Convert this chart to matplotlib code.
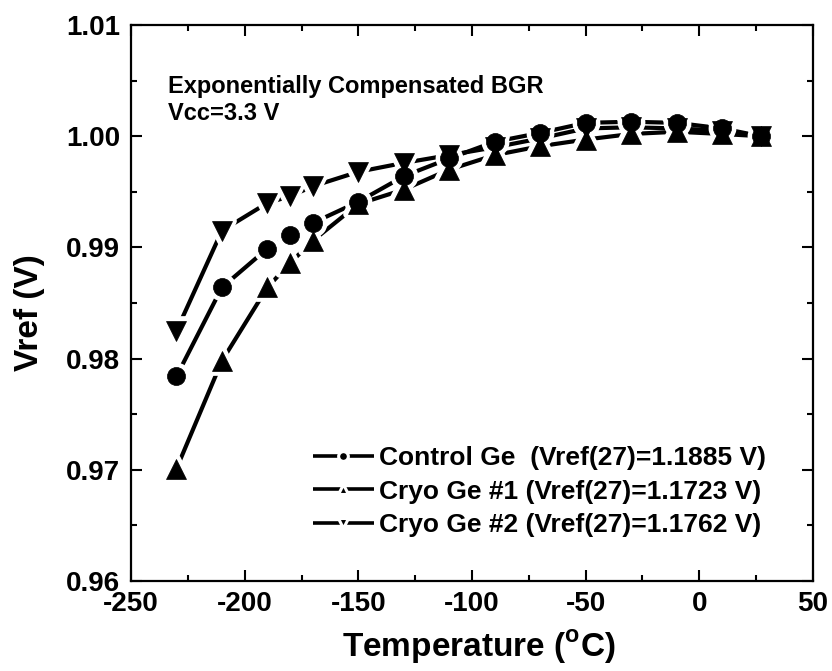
import matplotlib
matplotlib.use("Agg")
import matplotlib.pyplot as plt
from matplotlib.lines import Line2D
from matplotlib.markers import MarkerStyle
from matplotlib.ticker import MultipleLocator

plt.rcParams['font.family'] = ['Liberation Sans', 'DejaVu Sans']
plt.rcParams['font.weight'] = 'bold'
plt.rcParams['axes.unicode_minus'] = False
plt.rcParams['mathtext.fontset'] = 'custom'
plt.rcParams['mathtext.rm'] = 'Liberation Sans:bold'
plt.rcParams['mathtext.bf'] = 'Liberation Sans:bold'

temperature = [-230, -210, -190, -180, -170, -150, -130, -110, -90, -70, -50, -30, -10, 10, 27]
control_ge = [0.9784, 0.9864, 0.9899, 0.9911, 0.9922, 0.9941, 0.9964, 0.9980, 0.9995, 1.0003, 1.0012, 1.0013, 1.0012, 1.0007, 1.0000]
cryo_ge1 = [0.9701, 0.9798, 0.9864, 0.9886, 0.9906, 0.9939, 0.9952, 0.9970, 0.9983, 0.9991, 0.9997, 1.0002, 1.0004, 1.0002, 1.0000]
cryo_ge2 = [0.9825, 0.9915, 0.9940, 0.9946, 0.9955, 0.9968, 0.9976, 0.9983, 0.9990, 0.9998, 1.0007, 1.0008, 1.0007, 1.0005, 1.0000]
labels = ["Control Ge  (Vref(27)=1.1885 V)",
          "Cryo Ge #1 (Vref(27)=1.1723 V)",
          "Cryo Ge #2 (Vref(27)=1.1762 V)"]
markers = ['o', '^', 'v']
msizes = [13, 14, 14]
series = [control_ge, cryo_ge1, cryo_ge2]

W, H = 832, 671
fig = plt.figure(figsize=(W/100, H/100), dpi=100)
ax = fig.add_axes([131/W, 1-581/H, (813-131)/W, (581-25)/H])

for ys in series:
    ax.plot(temperature, ys, '-', color='black', lw=3, solid_capstyle='butt', zorder=2)
for ys, m, s in zip(series, markers, msizes):
    ax.plot(temperature, ys, linestyle='none', marker=MarkerStyle(m, joinstyle='round'), ms=s,
            mfc='white', mec='white', mew=7, zorder=3)
for ys, m, s in zip(series, markers, msizes):
    ax.plot(temperature, ys, linestyle='none', marker=m, ms=s, mfc='black', mec='black', mew=0.5, zorder=4)

handles = [Line2D([], [], color='black', lw=2.6, solid_capstyle='butt',
                  marker=MarkerStyle(m, joinstyle='round'), ms=7, mfc='black', mec='white', mew=2.2)
           for m in markers]
leg = fig.legend(handles, labels, loc='upper left', bbox_to_anchor=(313/W, 1-446/H), frameon=False,
                 fontsize=19, handlelength=2.3, handletextpad=0.2, labelspacing=0.36,
                 borderpad=0, borderaxespad=0)

ax.set_xlim(-250, 50)
ax.set_ylim(0.96, 1.01)
ax.xaxis.set_major_locator(MultipleLocator(50))
ax.xaxis.set_minor_locator(MultipleLocator(25))
ax.yaxis.set_major_locator(MultipleLocator(0.01))
ax.yaxis.set_minor_locator(MultipleLocator(0.005))
ax.tick_params(which='both', direction='in', top=True, right=True, width=1.5, labelsize=20)
ax.tick_params(axis='x', pad=7)
ax.tick_params(axis='y', pad=8)
ax.tick_params(which='major', length=8)
ax.tick_params(which='minor', length=4.5)
ax.yaxis.set_major_formatter(plt.FuncFormatter(lambda v, p: f"{v:.2f}"))
for s in ax.spines.values():
    s.set_linewidth(1.6)

ax.set_xlabel("Temperature ($^{\\mathrm{o}}$C)", fontsize=24, fontweight='bold')
ax.xaxis.set_label_coords((479-131)/(813-131), -(628-581)/(581-25))
ax.set_ylabel("Vref (V)", fontsize=24, fontweight='bold')
ax.yaxis.set_label_coords(-(131-45)/(813-131), 1-(313-25)/(581-25))

fig.text(168/W, 1-93/H, "Exponentially Compensated BGR", fontsize=17, fontweight='bold', va='baseline')
fig.text(168/W, 1-120/H, "Vcc=3.3 V", fontsize=17, fontweight='bold', va='baseline')

fig.savefig("out.png", dpi=100)
